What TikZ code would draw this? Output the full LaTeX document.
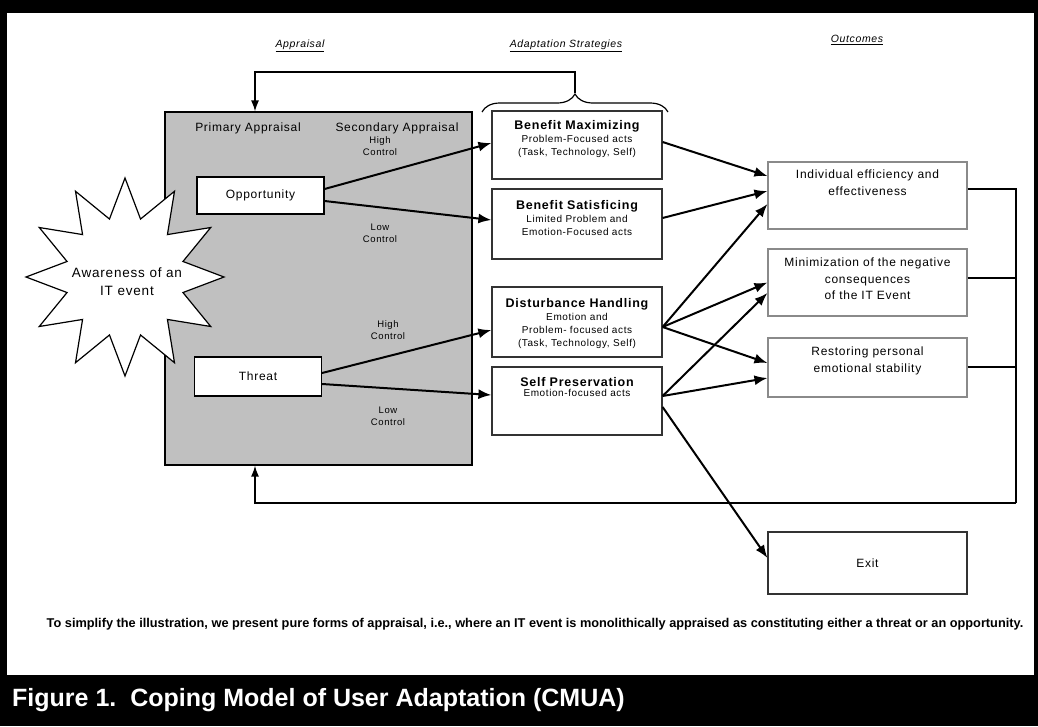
\documentclass[tikz,border=0pt]{standalone}
\usepackage{fontspec}
\setmainfont[LetterSpace=6]{Liberation Sans}
\newfontfamily\plainfont{Liberation Sans}
\usetikzlibrary{arrows.meta, positioning, shapes.geometric, calc, decorations.pathreplacing}
\definecolor{panelgray}{HTML}{C0C0C0}
\definecolor{edgegray}{HTML}{8A8A8A}

\begin{document}
\begin{tikzpicture}[x=1pt, y=-1pt,
  stratbox/.style={draw=black!80, fill=white, line width=1.2pt, minimum width=170pt, inner sep=0pt},
  outbox/.style={draw=edgegray, fill=white, line width=1.1pt, minimum width=199pt, inner sep=0pt},
  apprbox/.style={draw=black, fill=white, line width=1.1pt, minimum width=127pt, minimum height=37pt, font=\fontsize{12}{14}\selectfont},
  boxtitle/.style={font=\fontsize{12.5}{14}\selectfont\bfseries, align=center, inner sep=0pt},
  subtext/.style={font=\fontsize{10}{13}\selectfont, align=center, inner sep=0pt},
  outtext/.style={font=\fontsize{12}{16.5}\selectfont, align=center, inner sep=0pt},
  ctrl/.style={font=\fontsize{9.5}{12}\selectfont, align=center, inner sep=0pt},
  heading/.style={font=\fontsize{10.5}{12}\selectfont\itshape},
  flow/.style={-{Latex[length=13pt,width=10pt]}, line width=2pt},
  back/.style={line width=1.4pt},
  >={Latex[length=11pt,width=8pt]}
]
\useasboundingbox (0,0) rectangle (1038,726);
\fill[black] (0,0) rectangle (1038,726);
\fill[white] (7,13) rectangle (1034,675);

% column headings
\node[heading] (hApr) at (300,46) {\underline{Appraisal}};
\node[heading] (hAda) at (566,46) {\underline{Adaptation Strategies}};
\node[heading] (hOut) at (857,40) {\underline{Outcomes}};

% appraisal panel
\node[draw=black, fill=panelgray, line width=1.2pt, minimum width=307pt, minimum height=353pt, inner sep=0pt] (apr) at (318.5,288.5) {};
\node[font=\fontsize{12}{14}\selectfont] (prim) at (248,128) {Primary Appraisal};
\node[font=\fontsize{12}{14}\selectfont] (sec) at (397,128) {Secondary Appraisal};
\node[ctrl] (ohigh) at (380,146) {High\\Control};
\node[ctrl] (olow) at (380,233.5) {Low\\Control};
\node[ctrl] (thigh) at (388,330.5) {High\\Control};
\node[ctrl] (tlow) at (388,416) {Low\\Control};

% trigger
\node[star, star points=12, star point ratio=1.65, draw=black, fill=white, line width=1.2pt,
  minimum size=198pt, inner sep=0pt] (event) at (125,277) {};
\node[font=\fontsize{13.5}{18}\selectfont, align=center] (eventtxt) at (127,282) {Awareness of an\\IT event};

\node[apprbox] (opp) at (260.5,195.5) {Opportunity};
\node[apprbox, minimum height=39pt] (thr) at (258,376.5) {Threat};

% adaptation strategies
\node[stratbox, minimum height=68pt] (bm) at (577,145) {};
\node[stratbox, minimum height=70pt] (bs) at (577,224) {};
\node[stratbox, minimum height=70pt] (dh) at (577,322) {};
\node[stratbox, minimum height=68pt] (sp) at (577,401) {};
\node[boxtitle, below=9.5pt of bm.north] (bmt) {Benefit Maximizing};
\node[subtext, below=3pt of bmt] (bms) {Problem-Focused acts\\(Task, Technology, Self)};
\node[boxtitle, below=11.5pt of bs.north] (bst) {Benefit Satisficing};
\node[subtext, below=3pt of bst] (bss) {Limited Problem and\\Emotion-Focused acts};
\node[boxtitle, below=11.5pt of dh.north] (dht) {Disturbance Handling};
\node[subtext, below=3pt of dht] (dhs) {Emotion and\\Problem- focused acts\\(Task, Technology, Self)};
\node[boxtitle, below=10.5pt of sp.north] (spt) {Self Preservation};
\node[subtext, below=3pt of spt] (sps) {Emotion-focused acts};

% outcomes
\node[outbox, minimum height=67pt] (o1) at (867.5,195.5) {};
\node[outbox, minimum height=67pt] (o2) at (867.5,282.5) {};
\node[outbox, minimum height=59pt] (o3) at (867.5,367.5) {};
\node[outbox, draw=black!80, minimum height=62pt, font=\fontsize{12}{14}\selectfont] (exit) at (867.5,563) {Exit};
\node[outtext, below=8.5pt of o1.north] (o1t) {Individual efficiency and\\effectiveness};
\node[outtext, below=9.5pt of o2.north] (o2t) {Minimization of the negative\\consequences\\of the IT Event};
\node[outtext, below=9.5pt of o3.north] (o3t) {Restoring personal\\emotional stability};

% appraisal to strategies
\draw[flow] ($(opp.east)+(0,-6.5)$) -- ($(bm.west)+(0,-2)$);
\draw[flow] ($(opp.east)+(0,5.5)$) -- ($(bs.west)+(0,-4)$);
\draw[flow] ($(thr.east)+(0,-3.5)$) -- ($(dh.west)+(0,8)$);
\draw[flow] ($(thr.east)+(0,7.5)$) -- ($(sp.west)+(0,-6)$);

% strategies to outcomes
\draw[flow] ($(bm.east)+(0,-3)$) -- ($(o1.west)+(0,-19.5)$);
\draw[flow] ($(bs.east)+(0,-6)$) -- ($(o1.west)+(0,-4.5)$);
\draw[flow] ($(dh.east)+(0,5)$) -- ($(o1.west)+(0,8.5)$);
\draw[flow] ($(dh.east)+(0,5)$) -- ($(o2.west)+(0,0)$);
\draw[flow] ($(dh.east)+(0,5)$) -- ($(o3.west)+(0,-4.5)$);
\draw[flow] ($(sp.east)+(0,-5)$) -- ($(o2.west)+(0,10.5)$);
\draw[flow] ($(sp.east)+(0,-5)$) -- ($(o3.west)+(0,10.5)$);
\draw[flow] ($(sp.east)+(0,6)$) -- ($(exit.west)+(0,-5)$);

% feedback loops
\coordinate (fbr) at (1016,503);
\coordinate (fbl) at (255,503);
\coordinate (o1r) at ($(o1.east)+(0,-6.5)$);
\coordinate (o2r) at ($(o2.east)+(0,-4.5)$);
\coordinate (o3r) at ($(o3.east)+(0,-0.5)$);
\draw[back] (o1r) -| (fbr);
\draw[back] (o2r) -- (o2r -| fbr);
\draw[back] (o3r) -- (o3r -| fbr);
\draw[back, ->] (fbr) -- (fbl) -- (fbl |- apr.south);

\draw[line width=1.2pt, decorate, decoration={brace, amplitude=18pt}] (482,112) -- (668,112);
\coordinate (brtip) at (575,93);
\coordinate (topl) at (255,72);
\draw[back, ->] (brtip) |- (topl) -- (topl |- apr.north);

% footnote and caption
\node[font=\plainfont\fontsize{12.75}{14}\selectfont\bfseries] (note) at (535,624) {To simplify the illustration, we present pure forms of appraisal, i.e., where an IT event is monolithically appraised as constituting either a threat or an opportunity.};
\node[anchor=west, text=white, inner sep=0pt, font=\plainfont\fontsize{25}{28}\selectfont\bfseries] (cap) at (12,700) {Figure 1.\ \ Coping Model of User Adaptation (CMUA)};
\end{tikzpicture}
\end{document}
